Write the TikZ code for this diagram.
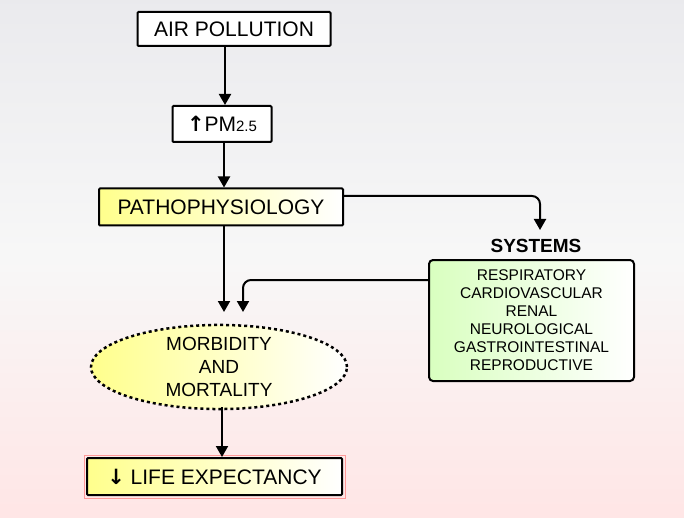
\documentclass[tikz,border=0pt]{standalone}
\usepackage{fontspec}
\setmainfont{Liberation Sans}
\newfontfamily\djv{DejaVu Sans}
\usetikzlibrary{arrows.meta,shapes.geometric}
\begin{document}
\begin{tikzpicture}[x=1pt,y=-1pt,
  box/.style={draw=black,line width=2pt,inner sep=0pt,font=\fontsize{21}{24}\selectfont,rounded corners=1pt},
  arr/.style={line width=2pt,-{Triangle[length=11pt,width=12pt]}},
  ygrad/.style={left color=yellow!45!white,right color=white}]
\shade[top color=blue!8!gray!15!white,bottom color=red!10!white,middle color=gray!6!white] (0,0) rectangle (684,518);
\useasboundingbox (0,0) rectangle (684,518);
\node[box,fill=white,minimum width=193pt,minimum height=34pt] (air) at (234,29) {AIR POLLUTION};
\node[box,fill=white,minimum width=99pt,minimum height=36pt] (pm) at (222,124) {{\djv\bfseries ↑}PM{\fontsize{15}{17}\selectfont 2.5}};
\node[box,ygrad,minimum width=244pt,minimum height=37pt] (pat) at (221,207) {PATHOPHYSIOLOGY};
\node[font=\bfseries\fontsize{19}{22}\selectfont] (sys) at (536,246) {SYSTEMS};
\node[draw=black,line width=2pt,rounded corners=4pt,left color=yellow!40!green!25!white,right color=white,minimum width=205pt,minimum height=121pt,align=center,font=\fontsize{15.5}{18}\selectfont,inner sep=0pt] (sb) at (531.5,320.5)
 {RESPIRATORY\\CARDIOVASCULAR\\RENAL\\NEUROLOGICAL\\GASTROINTESTINAL\\REPRODUCTIVE};
\node[ellipse,draw=black,line width=2.5pt,dashed,ygrad,minimum width=256pt,minimum height=80pt,inner sep=0pt,align=center,font=\fontsize{19}{23}\selectfont] (mm) at (219,367) {MORBIDITY\\AND\\MORTALITY};
\node[box,ygrad,minimum width=255pt,minimum height=37pt] (life) at (214.5,476.5) {{\djv\bfseries ↓} LIFE EXPECTANCY};
\draw[red!40,line width=1pt] ([shift={(-2,-2)}]life.north west) rectangle ([shift={(2,2)}]life.south east);
\coordinate (m1) at (224,312);
\coordinate (m2) at (243,312);
\coordinate (st) at (540,230);
\draw[arr] (air.south -| 225,0) -- (pm.north -| 225,0);
\draw[arr] (pm.south -| 224,0) -- (pat.north -| 224,0);
\draw[arr] (pat.south -| 224,0) -- (m1);
\draw[arr,rounded corners=8pt] (pat.east |- 0,196) -- (540,196) -- (st);
\draw[arr,rounded corners=8pt] (sb.west |- 0,280) -- (243,280) -- (m2);
\draw[arr] (222,407) -- (life.north -| 222,0);
\end{tikzpicture}
\end{document}
